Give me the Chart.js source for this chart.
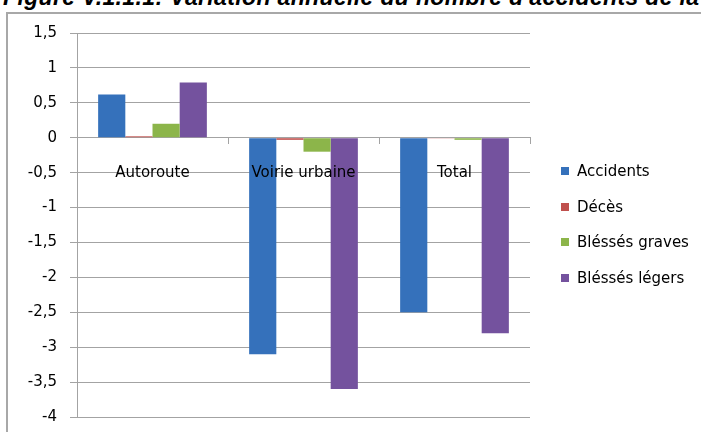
<!DOCTYPE html>
<html>
<head>
<meta charset="utf-8">
<script src="https://cdn.jsdelivr.net/npm/chart.js@4/dist/chart.umd.min.js"></script>
<style>
  body { margin: 0; background: #fff; overflow: hidden; }
  #wrap { position: relative; width: 701px; height: 432px; overflow: hidden; }
  #title { position: absolute; left: 3px; top: -16px; line-height: 23px; white-space: nowrap; letter-spacing: 0.35px;
           font: italic bold 23px "Liberation Sans", Arial, sans-serif; color: #000; }
  #frame { position: absolute; left: 6px; top: 12px; width: 760px; height: 460px;
           border: 2px solid #a8a8a8; }
  #chartBox { position: absolute; left: 0; top: 0; width: 701px; height: 439px; }
  #legend { position: absolute; left: 561px; top: 153px; font: 15px "DejaVu Sans", sans-serif; color: #000; }
  .item { height: 35.7px; display: flex; align-items: center; }
  .box { width: 8px; height: 8px; margin-right: 8px; }
</style>
</head>
<body>
<div id="wrap">
  <div id="title">Figure V.1.1.1: Variation annuelle du nombre d'accidents de la</div>
  <div id="frame"></div>
  <div id="chartBox"><canvas id="variationChart"></canvas></div>
  <div id="legend"></div>
</div>
<script>
const categories = ['Autoroute', 'Voirie urbaine', 'Total'];
const seriesNames = ['Accidents', 'Décès', 'Bléssés graves', 'Bléssés légers'];
const accidents = [0.62, -3.1, -2.5];
const deces = [0.02, -0.03, -0.01];
const blessesGraves = [0.2, -0.2, -0.03];
const blessesLegers = [0.79, -3.6, -2.8];
const seriesColors = ['#3571bb', '#c0504d', '#8cb54a', '#74529e'];

const gridColor = '#a3a3a3';
const labelFont = { family: 'DejaVu Sans', size: 15 };

const variationChart = new Chart(document.getElementById('variationChart'), {
    type: 'bar',
    data: {
        labels: categories,
        datasets: [accidents, deces, blessesGraves, blessesLegers].map((d, i) => ({
            label: seriesNames[i],
            data: d,
            backgroundColor: seriesColors[i],
            barPercentage: 1,
            categoryPercentage: 0.72,
        }))
    },
    options: {
        responsive: true,
        maintainAspectRatio: false,
        animation: false,
        layout: { padding: { left: 0, top: 33, right: 171, bottom: 15 } },
        plugins: { legend: { display: false }, tooltip: { enabled: false } },
        scales: {
            x: {
                position: { y: 0 },
                afterFit: (scale) => { scale.height = 0; },
                grid: { drawOnChartArea: false, tickLength: 6, color: gridColor },
                border: { color: gridColor },
                ticks: { color: '#000', font: labelFont, padding: 20, z: 1 }
            },
            y: {
                min: -4,
                max: 1.5,
                afterFit: (scale) => { scale.width = 77; },
                grid: { color: gridColor, tickLength: 7 },
                border: { color: gridColor },
                ticks: {
                    stepSize: 0.5,
                    padding: 13,
                    color: '#000',
                    font: labelFont,
                    callback: (v) => String(v).replace('.', ',')
                }
            }
        }
    }
});

// legend
const legend = document.getElementById('legend');
seriesNames.forEach((name, i) => {
    const row = document.createElement('div');
    row.className = 'item';
    row.innerHTML = '<span class="box" style="background:' + seriesColors[i] + '"></span>' + name;
    legend.appendChild(row);
});
</script>
</body>
</html>
